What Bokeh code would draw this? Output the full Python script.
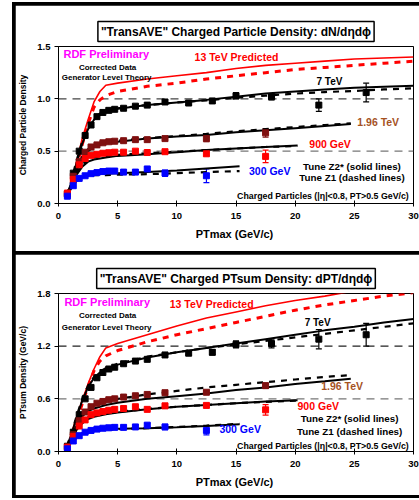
from bokeh.plotting import figure
from bokeh.models import (FixedTicker, NumeralTickFormatter, Span, Label, Whisker,
                          ColumnDataSource, Title, TeeHead)
from bokeh.layouts import column
from bokeh.embed import file_html
from bokeh.resources import INLINE

FONT = "Liberation Sans"

# ---------------- axes ----------------
x_ticks = [0, 5, 10, 15, 20, 25, 30]
y1_ticks = [0.0, 0.5, 1.0, 1.5]
y2_ticks = [0.0, 0.6, 1.2, 1.8]

# ---------------- PTmax bin centres ----------------
x_7tev = [0.75, 1.25, 1.75, 2.25, 2.75, 3.25, 3.75, 4.25, 4.75, 5.5, 6.5, 7.5, 9, 11, 13, 15, 18, 22, 26]
x_196 = [0.75, 1.25, 1.75, 2.25, 2.75, 3.25, 3.75, 4.25, 4.75, 5.5, 6.5, 7.5, 9, 12.5, 17.5]
x_900 = [0.75, 1.25, 1.75, 2.25, 2.75, 3.25, 3.75, 4.25, 4.75, 5.5, 6.5, 7.5, 9, 12.5, 17.5]
x_300 = [0.75, 1.25, 1.75, 2.25, 2.75, 3.25, 3.75, 4.25, 4.75, 5.5, 6.5, 7.5, 9, 12.5]

# ---------------- theory x grids ----------------
xt_13 = [1.2, 1.5, 2, 2.5, 3, 3.5, 4, 5, 7.5, 10, 12.5, 15, 17.5, 20, 22.5, 25, 27.5, 30]
xt_7 = [0.7, 1, 1.5, 2, 2.5, 3, 3.5, 4, 5, 7.5, 10, 12.5, 15, 17.5, 20, 22.5, 25, 27.5, 30]
xt_196 = [0.7, 1, 1.5, 2, 2.5, 3, 3.5, 4, 5, 7.5, 10, 12.5, 15, 17.5, 20, 22.5, 24.7]
xt_900 = [0.7, 1, 1.5, 2, 2.5, 3, 3.5, 4, 5, 7.5, 10, 12.5, 15, 17.5, 20.2]
xt_300 = [0.7, 1, 1.5, 2, 2.5, 3, 3.5, 4, 5, 7.5, 10, 12.5, 15.3]

# ---------------- panel 1: charged particle density ----------------
dn_7 = [0.09, 0.29, 0.50, 0.65, 0.75, 0.83, 0.87, 0.89, 0.90, 0.91, 0.93, 0.94, 0.97, 0.96, 0.98, 1.03, 1.02, 0.94, 1.06]
dn_7_err = [0, 0, 0, 0, 0, 0, 0, 0, 0, 0, 0, 0.01, 0.01, 0.015, 0.02, 0.03, 0.03, 0.06, 0.09]
dn_196 = [0.09, 0.26, 0.40, 0.49, 0.54, 0.56, 0.58, 0.59, 0.595, 0.60, 0.61, 0.61, 0.62, 0.62, 0.675]
dn_196_err = [0, 0, 0, 0, 0, 0, 0, 0, 0, 0, 0, 0, 0.01, 0.03, 0.04]
dn_900 = [0.10, 0.23, 0.37, 0.43, 0.46, 0.47, 0.48, 0.485, 0.49, 0.49, 0.50, 0.487, 0.495, 0.475, 0.45]
dn_900_err = [0, 0, 0, 0, 0, 0, 0, 0, 0, 0, 0, 0, 0.01, 0.02, 0.06]
dn_300 = [0.07, 0.17, 0.24, 0.265, 0.285, 0.295, 0.305, 0.31, 0.31, 0.30, 0.30, 0.33, 0.29, 0.265]
dn_300_err = [0, 0, 0, 0, 0, 0, 0, 0, 0, 0, 0, 0.02, 0.03, 0.065]

dn_13_z2 = [0.25, 0.38, 0.62, 0.80, 0.97, 1.07, 1.13, 1.15, 1.19, 1.22, 1.25, 1.29, 1.32, 1.34, 1.36, 1.38, 1.39, 1.40]
dn_13_z1 = [0.22, 0.34, 0.56, 0.76, 0.92, 0.99, 1.03, 1.07, 1.12, 1.15, 1.19, 1.22, 1.25, 1.28, 1.30, 1.32, 1.34, 1.36]
dn_7_z2 = [0.08, 0.17, 0.38, 0.57, 0.71, 0.80, 0.85, 0.875, 0.905, 0.94, 0.965, 0.99, 1.02, 1.05, 1.07, 1.09, 1.105, 1.115, 1.125]
dn_7_z1 = [0.08, 0.18, 0.40, 0.59, 0.72, 0.81, 0.86, 0.88, 0.91, 0.94, 0.965, 0.985, 1.01, 1.03, 1.05, 1.065, 1.075, 1.09, 1.10]
dn_196_z2 = [0.08, 0.16, 0.31, 0.43, 0.50, 0.54, 0.56, 0.575, 0.59, 0.62, 0.64, 0.655, 0.68, 0.70, 0.72, 0.74, 0.76]
dn_196_z1 = [0.08, 0.17, 0.33, 0.45, 0.52, 0.56, 0.58, 0.59, 0.60, 0.625, 0.645, 0.665, 0.69, 0.71, 0.73, 0.75, 0.765]
dn_900_z2 = [0.08, 0.15, 0.27, 0.35, 0.40, 0.42, 0.43, 0.44, 0.455, 0.47, 0.49, 0.51, 0.525, 0.54, 0.555]
dn_900_z1 = [0.08, 0.16, 0.29, 0.37, 0.42, 0.44, 0.45, 0.455, 0.465, 0.48, 0.495, 0.51, 0.525, 0.54, 0.55]
dn_300_z2 = [0.07, 0.13, 0.21, 0.25, 0.27, 0.28, 0.285, 0.285, 0.29, 0.30, 0.315, 0.335, 0.355]
dn_300_z1 = [0.07, 0.14, 0.22, 0.25, 0.265, 0.27, 0.27, 0.27, 0.275, 0.28, 0.29, 0.30, 0.31]

# ---------------- panel 2: charged PTsum density ----------------
pt_7 = [0.06, 0.22, 0.42, 0.60, 0.73, 0.84, 0.90, 0.94, 0.96, 1.00, 1.03, 1.05, 1.10, 1.12, 1.13, 1.22, 1.23, 1.28, 1.33]
pt_7_err = [0, 0, 0, 0, 0, 0, 0, 0, 0, 0, 0, 0, 0.01, 0.02, 0.03, 0.04, 0.05, 0.11, 0.13]
pt_196 = [0.05, 0.19, 0.35, 0.45, 0.51, 0.55, 0.57, 0.59, 0.60, 0.62, 0.635, 0.65, 0.67, 0.675, 0.75]
pt_196_err = [0, 0, 0, 0, 0, 0, 0, 0, 0, 0, 0, 0, 0.01, 0.02, 0.03]
pt_900 = [0.05, 0.17, 0.29, 0.36, 0.42, 0.44, 0.455, 0.47, 0.48, 0.49, 0.51, 0.48, 0.52, 0.525, 0.475]
pt_900_err = [0, 0, 0, 0, 0, 0, 0, 0, 0, 0, 0, 0, 0.01, 0.02, 0.06]
pt_300 = [0.03, 0.12, 0.18, 0.22, 0.24, 0.255, 0.265, 0.27, 0.275, 0.275, 0.28, 0.30, 0.28, 0.24]
pt_300_err = [0, 0, 0, 0, 0, 0, 0, 0, 0, 0, 0, 0.02, 0.03, 0.05]

pt_13_z2 = [0.25, 0.38, 0.58, 0.77, 0.94, 1.08, 1.18, 1.23, 1.33, 1.43, 1.52, 1.59, 1.66, 1.72, 1.77, 1.83, 1.88, 1.93]
pt_13_z1 = [0.22, 0.34, 0.54, 0.74, 0.92, 1.03, 1.09, 1.15, 1.25, 1.33, 1.40, 1.47, 1.54, 1.61, 1.67, 1.72, 1.77, 1.81]
pt_7_z2 = [0.06, 0.16, 0.37, 0.58, 0.73, 0.84, 0.90, 0.94, 0.99, 1.07, 1.13, 1.18, 1.23, 1.28, 1.33, 1.38, 1.42, 1.47, 1.51]
pt_7_z1 = [0.06, 0.17, 0.39, 0.60, 0.75, 0.85, 0.91, 0.95, 1.00, 1.08, 1.13, 1.18, 1.22, 1.26, 1.30, 1.34, 1.38, 1.42, 1.46]
pt_196_z2 = [0.05, 0.13, 0.29, 0.40, 0.46, 0.49, 0.51, 0.53, 0.555, 0.60, 0.63, 0.66, 0.70, 0.73, 0.77, 0.80, 0.83]
pt_196_z1 = [0.05, 0.14, 0.31, 0.42, 0.48, 0.52, 0.55, 0.57, 0.60, 0.65, 0.69, 0.73, 0.76, 0.79, 0.82, 0.85, 0.87]
pt_900_z2 = [0.05, 0.12, 0.24, 0.32, 0.37, 0.395, 0.41, 0.425, 0.445, 0.48, 0.51, 0.53, 0.55, 0.57, 0.585]
pt_900_z1 = [0.05, 0.13, 0.26, 0.34, 0.39, 0.41, 0.425, 0.435, 0.45, 0.485, 0.51, 0.53, 0.55, 0.565, 0.58]
pt_300_z2 = [0.03, 0.09, 0.17, 0.21, 0.235, 0.245, 0.25, 0.255, 0.26, 0.265, 0.275, 0.29, 0.31]
pt_300_z1 = [0.03, 0.10, 0.17, 0.21, 0.23, 0.24, 0.245, 0.25, 0.255, 0.265, 0.28, 0.295, 0.315]

# ---------------- colours ----------------
C_7 = "#000000"
C_196 = "#7f1010"
C_196_TXT = "#a5521f"
C_900 = "#ff0000"
C_300 = "#0000ff"
C_13 = "#ff0000"
C_RDF = "#ff00ff"


def build(title_text, ylabel, yticks, height, min_top, min_bottom,
          series, curves, ref_lines, texts):
    p = figure(width=404, height=height, x_range=(0, 30), y_range=(yticks[0], yticks[-1]),
               output_backend="svg", toolbar_location=None,
               min_border_left=42, min_border_right=6,
               min_border_top=min_top, min_border_bottom=min_bottom,
               background_fill_color="white", border_fill_color="white")
    p.title = Title(text=title_text, align="center", offset=-15, standoff=10,
                    text_font=FONT, text_font_size="12px", text_font_style="bold",
                    text_color="black", border_line_color="black", border_line_width=1.5,
                    background_fill_color="white", padding=3)
    p.outline_line_color = "black"
    p.outline_line_width = 1
    p.outline_line_alpha = 1
    p.xgrid.visible = False
    p.ygrid.visible = False

    p.xaxis.ticker = FixedTicker(ticks=x_ticks)
    p.yaxis.ticker = FixedTicker(ticks=yticks)
    p.yaxis.formatter = NumeralTickFormatter(format="0.0")
    for ax in (p.xaxis, p.yaxis):
        ax.axis_line_color = "black"
        ax.major_tick_line_color = "black"
        ax.minor_tick_line_color = None
        ax.major_label_text_font = FONT
        ax.major_label_text_font_size = "9.5px"
        ax.major_label_text_font_style = "bold"
        ax.major_label_text_color = "black"
        ax.axis_label_text_font = FONT
        ax.axis_label_text_font_style = "bold"
        ax.axis_label_text_color = "black"
    p.xaxis.major_tick_in = 3
    p.xaxis.major_tick_out = 3
    p.yaxis.major_tick_in = 0
    p.yaxis.major_tick_out = 4
    p.xaxis.major_label_standoff = 6
    p.yaxis.major_label_standoff = 4
    p.xaxis.axis_label = "PTmax  (GeV/c)"
    p.xaxis.axis_label_text_font_size = "11px"
    p.xaxis.axis_label_standoff = 6
    p.yaxis.axis_label = ylabel
    p.yaxis.axis_label_text_font_size = "8.5px"
    p.yaxis.axis_label_standoff = 6

    for yv, col in ref_lines:
        p.add_layout(Span(location=yv, dimension="width", line_color=col,
                          line_width=1.3, line_dash="8 6", level="underlay"))

    for xs, ys, col, width, dash in curves:
        if dash:
            p.line(xs, ys, line_color=col, line_width=width, line_dash=dash)
        else:
            p.line(xs, ys, line_color=col, line_width=width)

    for xs, ys, errs, col in series:
        ex = [x for x, e in zip(xs, errs) if e > 0]
        up = [y + e for y, e in zip(ys, errs) if e > 0]
        lo = [y - e for y, e in zip(ys, errs) if e > 0]
        src = ColumnDataSource(dict(x=ex, upper=up, lower=lo))
        p.add_layout(Whisker(base="x", upper="upper", lower="lower", source=src,
                             line_color=col, line_width=1.2,
                             upper_head=TeeHead(size=6, line_color=col, line_width=1.2),
                             lower_head=TeeHead(size=6, line_color=col, line_width=1.2)))
        p.scatter(xs, ys, marker="square", size=6, fill_color=col, line_color=col)

    for txt, x, y, col, size, align in texts:
        p.add_layout(Label(x=x, y=y, text=txt, text_color=col, text_font=FONT,
                           text_font_size=size, text_font_style="bold",
                           text_align=align, text_baseline="middle"))
    return p


tune_texts = ["Tune Z2* (solid lines)", "Tune Z1 (dashed lines)"]
cuts_text = "Charged Particles (|η|<0.8, PT>0.5 GeV/c)"

p1 = build(
    "\"TransAVE\" Charged Particle Density: dN/dηdϕ", "Charged Particle Density",
    y1_ticks, 246, 41, 48,
    series=[(x_7tev, dn_7, dn_7_err, C_7), (x_196, dn_196, dn_196_err, C_196),
            (x_900, dn_900, dn_900_err, C_900), (x_300, dn_300, dn_300_err, C_300)],
    curves=[(xt_13, dn_13_z2, C_13, 1.6, None), (xt_13, dn_13_z1, C_13, 3, "6 6"),
            (xt_7, dn_7_z2, "black", 2, None), (xt_7, dn_7_z1, "black", 2.2, "6 6"),
            (xt_196, dn_196_z2, "black", 2, None), (xt_196, dn_196_z1, "black", 2.2, "6 6"),
            (xt_900, dn_900_z2, "black", 2, None), (xt_900, dn_900_z1, "black", 2.2, "6 6"),
            (xt_300, dn_300_z2, "black", 2, None), (xt_300, dn_300_z1, "black", 2.2, "6 6")],
    ref_lines=[(1.0, "#444444"), (0.5, "#777777")],
    texts=[("RDF Preliminary", 0.42, 1.43, C_RDF, "11px", "left"),
           ("Corrected Data", 4.15, 1.30, "black", "8px", "center"),
           ("Generator Level Theory", 4.07, 1.20, "black", "8px", "center"),
           ("13 TeV Predicted", 11.5, 1.395, C_13, "10.5px", "left"),
           ("7 TeV", 21.8, 1.165, "black", "10px", "left"),
           ("1.96 TeV", 25.25, 0.777, C_196_TXT, "10.5px", "left"),
           ("900 GeV", 21.2, 0.573, C_900, "10.5px", "left"),
           ("300 GeV", 16.1, 0.306, C_300, "10.5px", "left"),
           (tune_texts[0], 24.8, 0.353, "black", "9.8px", "center"),
           (tune_texts[1], 24.8, 0.248, "black", "9.8px", "center"),
           (cuts_text, 29.6, 0.076, "black", "8.8px", "right")])

p2 = build(
    "\"TransAVE\" Charged PTsum Density: dPT/dηdϕ", "PTsum Density (GeV/c)",
    y2_ticks, 241, 39, 44,
    series=[(x_7tev, pt_7, pt_7_err, C_7), (x_196, pt_196, pt_196_err, C_196),
            (x_900, pt_900, pt_900_err, C_900), (x_300, pt_300, pt_300_err, C_300)],
    curves=[(xt_13, pt_13_z2, C_13, 1.6, None), (xt_13, pt_13_z1, C_13, 3, "6 6"),
            (xt_7, pt_7_z2, "black", 2, None), (xt_7, pt_7_z1, "black", 2.2, "6 6"),
            (xt_196, pt_196_z2, "black", 2, None), (xt_196, pt_196_z1, "black", 2.2, "6 6"),
            (xt_900, pt_900_z2, "black", 2, None), (xt_900, pt_900_z1, "black", 2.2, "6 6"),
            (xt_300, pt_300_z2, "black", 2, None), (xt_300, pt_300_z1, "black", 2.2, "6 6")],
    ref_lines=[(1.2, "#222222"), (0.6, "#777777")],
    texts=[("RDF Preliminary", 0.5, 1.70, C_RDF, "11px", "left"),
           ("Corrected Data", 4.15, 1.55, "black", "8px", "center"),
           ("Generator Level Theory", 4.07, 1.41, "black", "8px", "center"),
           ("13 TeV Predicted", 9.4, 1.686, C_13, "10.5px", "left"),
           ("7 TeV", 20.8, 1.47, "black", "10px", "left"),
           ("1.96 TeV", 22.2, 0.75, C_196_TXT, "10.5px", "left"),
           ("900 GeV", 20.2, 0.524, C_900, "10.5px", "left"),
           ("300 GeV", 13.6, 0.262, C_300, "10.5px", "left"),
           (tune_texts[0], 24.6, 0.376, "black", "9.8px", "center"),
           (tune_texts[1], 24.6, 0.228, "black", "9.8px", "center"),
           (cuts_text, 29.6, 0.057, "black", "8.8px", "right")])

p1.margin = (3, 0, 0, 3)
p2.margin = (3, 0, 3, 3)
layout = column(p1, p2, spacing=0, margin=(2, 0, 0, 12),
                styles={"background-color": "black"})

open("out.html", "w").write(file_html(layout, INLINE))
